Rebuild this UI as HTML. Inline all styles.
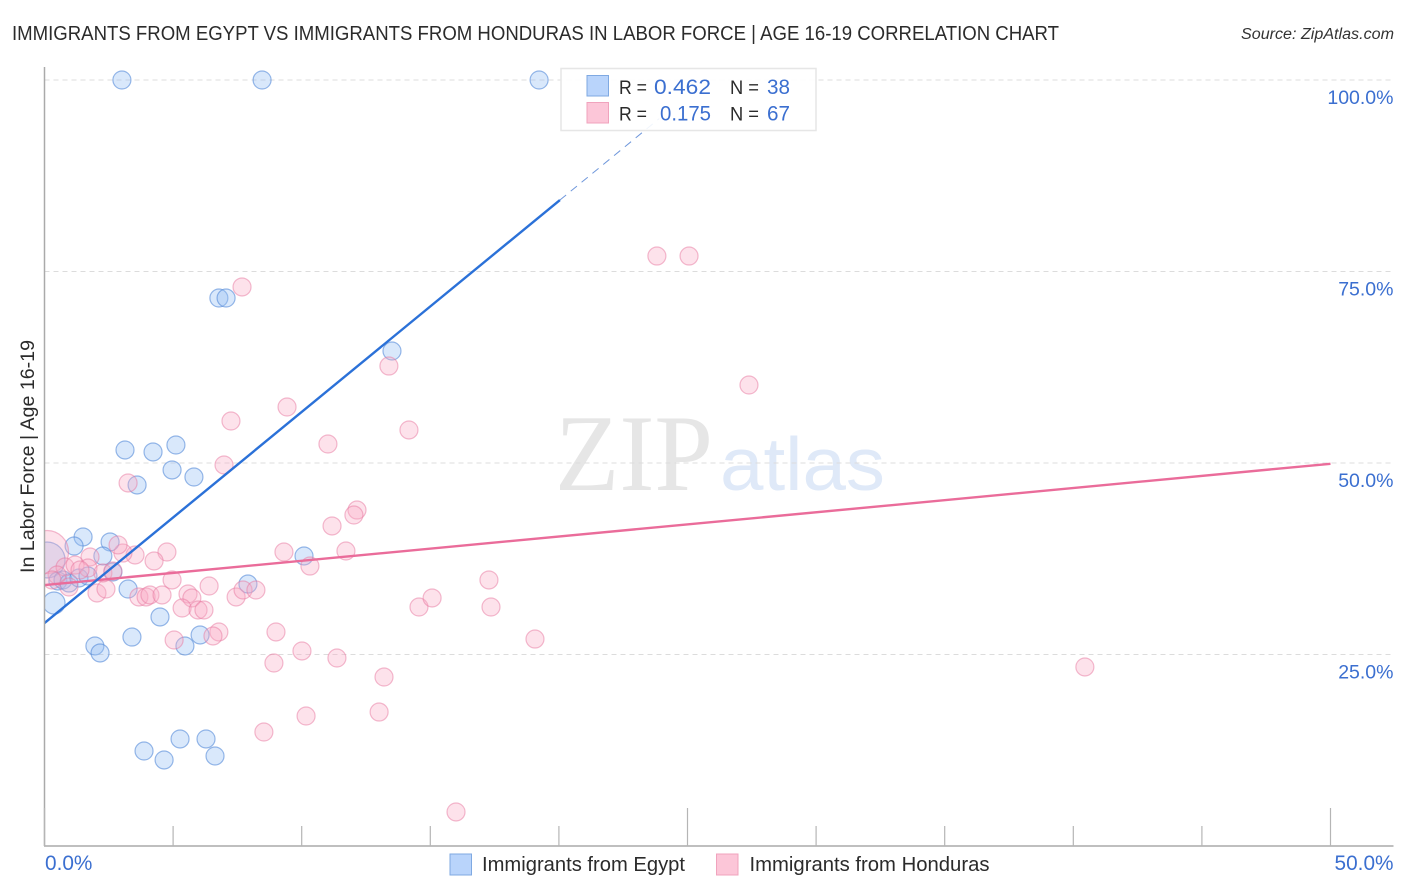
<!DOCTYPE html>
<html lang="en">
<head>
<meta charset="utf-8">
<title>Immigrants from Egypt vs Immigrants from Honduras in Labor Force | Age 16-19 Correlation Chart</title>
<style>
html,body{margin:0;padding:0;background:#fff;}
#chart{display:block;width:1406px;height:892px;font-family:"Liberation Sans",sans-serif;}
</style>
</head>
<body>
<svg id="chart" xmlns="http://www.w3.org/2000/svg" width="1406" height="892" viewBox="0 0 1406 892">
  <rect x="0" y="0" width="1406" height="892" fill="#ffffff"/>
  <text x="12" y="40" font-size="20" fill="#2b2b2b" textLength="1047" lengthAdjust="spacingAndGlyphs">IMMIGRANTS FROM EGYPT VS IMMIGRANTS FROM HONDURAS IN LABOR FORCE | AGE 16-19 CORRELATION CHART</text>
  <text x="1241" y="39" font-size="15.5" font-style="italic" fill="#333333" textLength="153" lengthAdjust="spacingAndGlyphs">Source: ZipAtlas.com</text>
  <g>
    <text x="555" y="490" font-family="'Liberation Serif',serif" font-size="109" fill="#e6e6e6" textLength="158" lengthAdjust="spacingAndGlyphs">ZIP</text>
    <text x="720" y="490" font-size="75" fill="#dfe9f8" textLength="165" lengthAdjust="spacingAndGlyphs">atlas</text>
  </g>
  <g id="grid"></g>
  <g>
    <g id="egypt-points"></g>
    <g id="honduras-points"></g>
    <g id="trends"></g>
  </g>
  <rect x="0" y="60" width="44.5" height="800" fill="#ffffff"/>
  <g id="axes"></g>
  <text transform="translate(34 573) rotate(-90)" x="0" y="0" font-size="19.5" fill="#2b2b2b" textLength="233" lengthAdjust="spacingAndGlyphs">In Labor Force | Age 16-19</text>
  <g>
    <rect x="561" y="68.5" width="255" height="62" fill="#ffffff" fill-opacity="0.9" stroke="#e6e6e6" stroke-width="1.5"/>
    <rect x="587" y="75.5" width="21.5" height="20.5" fill="#b9d4fb" stroke="#7fa9e2" stroke-width="1"/>
    <rect x="587" y="102.5" width="21.5" height="20.5" fill="#fcc6d8" stroke="#f0a3bd" stroke-width="1"/>
    <text x="619" y="94" font-size="19.5" fill="#2b2b2b" textLength="28" lengthAdjust="spacingAndGlyphs">R =</text>
    <text x="654" y="94" font-size="21.5" fill="#3b6fd0" textLength="57" lengthAdjust="spacingAndGlyphs">0.462</text>
    <text x="730" y="94" font-size="19.5" fill="#2b2b2b" textLength="29" lengthAdjust="spacingAndGlyphs">N =</text>
    <text x="767" y="94" font-size="21.5" fill="#3b6fd0" textLength="23" lengthAdjust="spacingAndGlyphs">38</text>
    <text x="619" y="120.5" font-size="19.5" fill="#2b2b2b" textLength="28" lengthAdjust="spacingAndGlyphs">R =</text>
    <text x="660" y="120.5" font-size="21.5" fill="#3b6fd0" textLength="51" lengthAdjust="spacingAndGlyphs">0.175</text>
    <text x="730" y="120.5" font-size="19.5" fill="#2b2b2b" textLength="29" lengthAdjust="spacingAndGlyphs">N =</text>
    <text x="767" y="120.5" font-size="21.5" fill="#3b6fd0" textLength="23" lengthAdjust="spacingAndGlyphs">67</text>
  </g>
  <g>
    <rect x="450" y="854" width="21.5" height="21" fill="#b9d4fb" stroke="#7fa9e2" stroke-width="1"/>
    <text x="482" y="871" font-size="20" fill="#2b2b2b" textLength="203" lengthAdjust="spacingAndGlyphs">Immigrants from Egypt</text>
    <rect x="716.5" y="854" width="21.5" height="21" fill="#fcc6d8" stroke="#f0a3bd" stroke-width="1"/>
    <text x="749.5" y="871" font-size="20" fill="#2b2b2b" textLength="240" lengthAdjust="spacingAndGlyphs">Immigrants from Honduras</text>
  </g>
</svg>
<script>
const xTickValues = [0, 5, 10, 15, 20, 25, 30, 35, 40, 45, 50];
const xMajorTicks = [0, 25, 50];
const xTickLabels = [0, 50];
const yTickValues = [25, 50, 75, 100];

const egyptX = [3.01,8.46,19.23,6.78,7.06,13.51,3.13,4.22,5.11,4.96,5.81,3.60,10.09,1.50,1.15,2.55,2.27,2.66,0.10,0.37,3.25,4.49,3.40,1.96,2.16,5.46,6.05,7.91,0.52,0.72,0.95,1.34,1.69,3.87,4.65,5.27,6.28,6.63];
const egyptY = [100,100,100,71.54,71.54,64.62,51.70,51.44,52.35,49.09,48.17,47.13,37.86,40.34,39.16,39.69,37.86,35.77,37.34,31.72,33.55,29.90,27.28,26.11,25.20,26.11,27.55,34.20,34.60,34.73,34.33,34.99,35.25,12.40,11.23,13.97,13.97,11.75];
const egyptWeight = [1,1,1,1,1,1,1,1,1,1,1,1,1,1,1,1,1,1,4.0,1.5,1,1,1,1,1,1,1,1,1,1,1,1,1,1,1,1,1,1];

const hondurasX = [7.68,23.81,25.06,13.39,27.39,7.25,9.43,14.17,11.02,6.98,3.25,12.15,12.03,11.18,11.72,9.31,10.32,17.28,40.45,14.56,15.07,17.36,19.07,9.00,10.01,11.37,13.20,10.17,13.01,8.53,8.92,16.00,6.78,6.55,5.04,4.96,4.76,4.26,3.52,3.05,2.86,6.40,2.04,2.39,3.67,3.95,4.10,4.57,5.58,5.73,5.35,5.97,6.20,7.45,7.72,8.22,1.77,0.10,0.80,1.19,1.69,1.38,2.27,0.49,0.95,0.29,2.66];
const hondurasY = [72.98,77.02,77.02,62.66,60.18,55.48,57.31,54.31,52.48,49.74,47.39,43.86,43.21,41.78,38.51,38.38,36.55,34.73,23.37,31.20,32.38,31.20,27.02,27.94,25.46,24.54,22.06,16.97,17.49,14.88,23.89,4.44,27.94,27.42,26.89,34.73,38.38,37.21,37.99,38.25,39.30,33.94,33.03,33.55,32.51,32.51,32.77,32.77,32.90,32.38,31.07,30.81,30.81,32.51,33.42,33.42,37.73,38.38,36.42,36.68,36.29,36.03,35.64,35.38,33.81,34.73,35.90];
const hondurasWeight = [1,1,1,1,1,1,1,1,1,1,1,1,1,1,1,1,1,1,1,1,1,1,1,1,1,1,1,1,1,1,1,1,1,1,1,1,1,1,1,1,1,1,1,1,1,1,1,1,1,1,1,1,1,1,1,1,1,5.7,1,1,1,1,1,1,1,1,1];

const egyptTrendX = [0, 20.04];
const egyptTrendY = [29.11, 84.33];
const egyptDashX = [20.04, 23.9];
const egyptDashY = [84.33, 94.96];
const hondurasTrendX = [0, 50];
const hondurasTrendY = [34.07, 49.9];

const NS = 'http://www.w3.org/2000/svg';
function xScale(v) { return 44.5 + v * 25.72; }
function yScale(v) { return 846 - v * 7.66; }
function make(parent, tag, attrs, text) {
  const el = document.createElementNS(NS, tag);
  for (const k in attrs) el.setAttribute(k, attrs[k]);
  if (text !== undefined) el.textContent = text;
  parent.appendChild(el);
  return el;
}
const TICK_BLUE = '#3b6fd0';
const grid = document.getElementById('grid');
const axes = document.getElementById('axes');

yTickValues.forEach(function (v) {
  const line = make(grid, 'line', { x1: 44.5, x2: 1393, y1: yScale(v), y2: yScale(v), stroke: '#dcdcdc', 'stroke-width': 1, 'stroke-dasharray': '5 4' });
  
  
  const label = make(axes, 'text', { x: 1393.5, y: yScale(v) + 24, 'text-anchor': 'end', 'font-size': 19.5, fill: TICK_BLUE }, v.toFixed(1) + '%');
  
  
});

const yAxisLine = make(axes, 'line', { x1: 44.5, x2: 44.5, y1: 67, y2: 846, stroke: '#aaaaaa', 'stroke-width': 1.5 });


const xAxisLine = make(axes, 'line', { x1: 44, x2: 1393.5, y1: 846, y2: 846, stroke: '#aaaaaa', 'stroke-width': 1.5 });



xTickValues.forEach(function (v) {
  const major = xMajorTicks.indexOf(v) >= 0;
  const tick = make(axes, 'line', { x1: xScale(v), x2: xScale(v), y1: major ? 808 : 826, y2: 846, stroke: '#b5b5b5', 'stroke-width': 1.2 });
  
  
});
xTickLabels.forEach(function (v, i) {
  const label = make(axes, 'text', { x: i === 0 ? xScale(v) + 0.5 : 1393.5, y: 870, 'text-anchor': i === 0 ? 'start' : 'end', 'font-size': 20.8, fill: TICK_BLUE }, v.toFixed(1) + '%');
  
  
});

function drawPoints(groupId, xs, ys, weights, fill, stroke, name) {
  const g = document.getElementById(groupId);
  xs.forEach(function (x, i) {
    const c = make(g, 'circle', { cx: xScale(x), cy: yScale(ys[i]), r: 9 * Math.sqrt(weights[i]), fill: fill, stroke: stroke, 'stroke-width': 1.2 });
    
    
  });
}
drawPoints('egypt-points', egyptX, egyptY, egyptWeight, 'rgba(150,190,245,0.36)', 'rgba(80,135,215,0.58)', 'egypt-point');
drawPoints('honduras-points', hondurasX, hondurasY, hondurasWeight, 'rgba(248,170,195,0.34)', 'rgba(232,120,160,0.5)', 'honduras-point');

const trends = document.getElementById('trends');
const dash = make(trends, 'line', { x1: xScale(egyptDashX[0]), y1: yScale(egyptDashY[0]), x2: xScale(egyptDashX[1]), y2: yScale(egyptDashY[1]), stroke: '#6f97db', 'stroke-width': 1, 'stroke-dasharray': '8 6' });


const hondurasLine = make(trends, 'line', { x1: xScale(hondurasTrendX[0]), y1: yScale(hondurasTrendY[0]), x2: xScale(hondurasTrendX[1]), y2: yScale(hondurasTrendY[1]), stroke: '#ea6c9a', 'stroke-width': 2.4 });


const egyptLine = make(trends, 'line', { x1: xScale(egyptTrendX[0]), y1: yScale(egyptTrendY[0]), x2: xScale(egyptTrendX[1]), y2: yScale(egyptTrendY[1]), stroke: '#2b71d8', 'stroke-width': 2.4 });


</script>
</body>
</html>
